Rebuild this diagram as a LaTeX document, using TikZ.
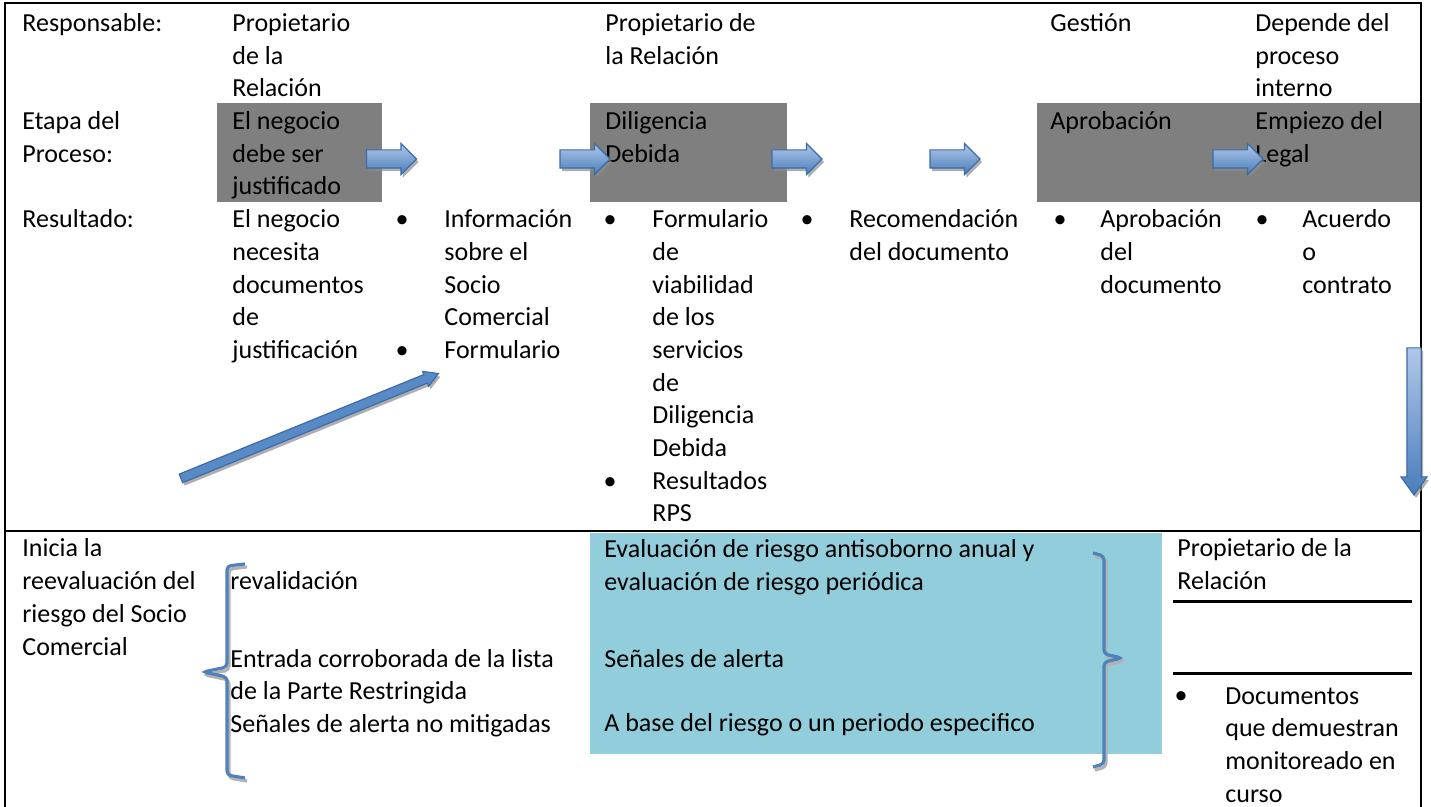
\documentclass[tikz,border=0pt]{standalone}
\usepackage{fontspec}
\setmainfont{Carlito}
\usetikzlibrary{shapes.arrows,shadows}
\definecolor{cellgray}{RGB}{127,127,127}
\definecolor{cellaqua}{RGB}{146,205,220}
\definecolor{arrowtop}{RGB}{176,200,232}
\definecolor{arrowbot}{RGB}{74,125,187}
\definecolor{arrowmid}{RGB}{88,138,198}
\definecolor{arrowline}{RGB}{60,108,170}
\definecolor{bracecol}{RGB}{79,129,189}
\tikzset{
  txt/.style={anchor=base west,align=left,inner sep=0pt,font=\fontsize{13pt}{16.35pt}\selectfont},
  dot/.style={anchor=base,inner sep=0pt,font=\fontsize{13pt}{16.35pt}\selectfont},
  blockarrow/.style={single arrow,draw=arrowline,line width=0.6pt,inner xsep=0pt,
    drop shadow={shadow xshift=1pt,shadow yshift=-1.5pt,fill=black!45,opacity=0.7}},
  flowarrow/.style={blockarrow,top color=arrowtop,bottom color=arrowbot,minimum height=25pt,inner ysep=4.25pt,single arrow head extend=3.25pt},
  bracket/.style={draw=bracecol,line width=1.6pt,rounded corners=2pt},
  bracketshadow/.style={draw=black!30,line width=1.6pt,rounded corners=2pt}
}

\begin{document}
\begin{tikzpicture}[x=0.5pt,y=-0.5pt]
    \useasboundingbox (0,0) rectangle (1431,807);
    \fill [cellgray] (217,103) rectangle (382,202);
    \fill [cellgray] (590,103) rectangle (787,202);
    \fill [cellgray] (1037,103) rectangle (1421,202);
    \fill [cellaqua] (590,533) rectangle (1162,754);
    \draw [line width=1pt] (5,807) -- (5,3) -- (1421,3) -- (1421,807);
    \draw [line width=1pt] (5,531) -- (1421,531);
    \node [txt] (responsable) at (22,31.5) {Responsable:};
    \node [txt] (etapa) at (22,162.3) {Etapa del\\Proceso:};
    \node [txt] (resultado) at (22,227.7) {Resultado:};
    \node [txt] (ownerA) at (232,96.9) {Propietario\\de la\\Relación};
    \node [txt] (ownerB) at (605,64.2) {Propietario de\\la Relación};
    \node [txt] (gestion) at (1050,31.5) {Gestión};
    \node [txt] (depende) at (1255,96.9) {Depende del\\proceso\\interno};
    \node [txt] (stageA) at (232,195) {El negocio\\debe ser\\justificado};
    \node [txt] (stageB) at (605,162.3) {Diligencia\\Debida};
    \node [txt] (stageC) at (1050,129.6) {Aprobación};
    \node [txt] (stageD) at (1255,162.3) {Empiezo del\\Legal};
    \node [txt] (outA) at (232,358.5) {El negocio\\necesita\\documentos\\de\\justificación};
    \node [dot] (dotB) at (402,227.7) {•};
    \node [dot] (dotBB) at (402,358.5) {•};
    \node [txt] (outB) at (444,358.5) {Información\\sobre el\\Socio\\Comercial\\Formulario};
    \node [dot] (dotC) at (610,227.7) {•};
    \node [dot] (dotCC) at (610,489.3) {•};
    \node [txt] (outC) at (652,522) {Formulario\\de\\viabilidad\\de los\\servicios\\de\\Diligencia\\Debida\\Resultados\\RPS};
    \node [dot] (dotD) at (807,227.7) {•};
    \node [txt] (outD) at (849,260.4) {Recomendación\\del documento};
    \node [dot] (dotE) at (1060,227.7) {•};
    \node [txt] (outE) at (1100,293.1) {Aprobación\\del\\documento};
    \node [dot] (dotF) at (1262,227.7) {•};
    \node [txt] (outF) at (1302,293.1) {Acuerdo\\o\\contrato};
    \node [flowarrow] (arrA) at (387,159) {};
    \node [flowarrow] (arrB) at (580.5,159) {};
    \node [flowarrow] (arrC) at (792.5,159) {};
    \node [flowarrow] (arrD) at (950.5,159) {};
    \node [flowarrow] (arrE) at (1233.5,159) {};
    \node [blockarrow,fill=arrowmid,minimum height=139pt,inner ysep=2pt,single arrow head extend=1.7pt,single arrow tip angle=60,rotate=22.15] (arrUp) at (306,427.5) {};
    \node [blockarrow,top color=arrowtop,bottom color=arrowbot,minimum height=73.5pt,inner ysep=3.25pt,single arrow head extend=3pt,single arrow tip angle=72,rotate=-90] (arrDown) at (1414,416.5) {};
    \node [txt] (inicia) at (22,655.1) {Inicia la\\reevaluación del\\riesgo del Socio\\Comercial};
    \draw [bracketshadow] (247,567) -- (229,569) -- (229,670) -- (205,675) -- (229,680) -- (229,778) -- (247,781);
    \draw [bracket] (245,564) -- (227,566) -- (227,667) -- (203,672) -- (227,677) -- (227,775) -- (245,778);
    \node [txt] (revalida) at (230,590) {revalidación};
    \node [txt] (entrada) at (230,732.4) {Entrada corroborada de la lista\\de la Parte Restringida\\Señales de alerta no mitigadas};
    \node [txt] (evalua) at (604,590.7) {Evaluación de riesgo antisoborno anual y\\evaluación de riesgo periódica};
    \node [txt] (senales) at (604,668) {Señales de alerta};
    \node [txt] (base) at (604,732) {A base del riesgo o un periodo especifico};
    \draw [bracketshadow] (1095,556) -- (1106,559) -- (1106,657) -- (1124,661) -- (1106,665) -- (1106,767) -- (1095,770);
    \draw [bracket] (1093,553) -- (1104,556) -- (1104,654) -- (1122,658) -- (1104,662) -- (1104,764) -- (1093,767);
    \node [txt] (ownerC) at (1177,589.7) {Propietario de la\\Relación};
    \draw [line width=1.5pt] (1173,602) -- (1412,602);
    \draw [line width=1.5pt] (1173,674) -- (1412,674);
    \node [dot] (dotG) at (1181,704) {•};
    \node [txt] (docs) at (1225,802.1) {Documentos\\que demuestran\\monitoreado en\\curso};
\end{tikzpicture}
\end{document}
